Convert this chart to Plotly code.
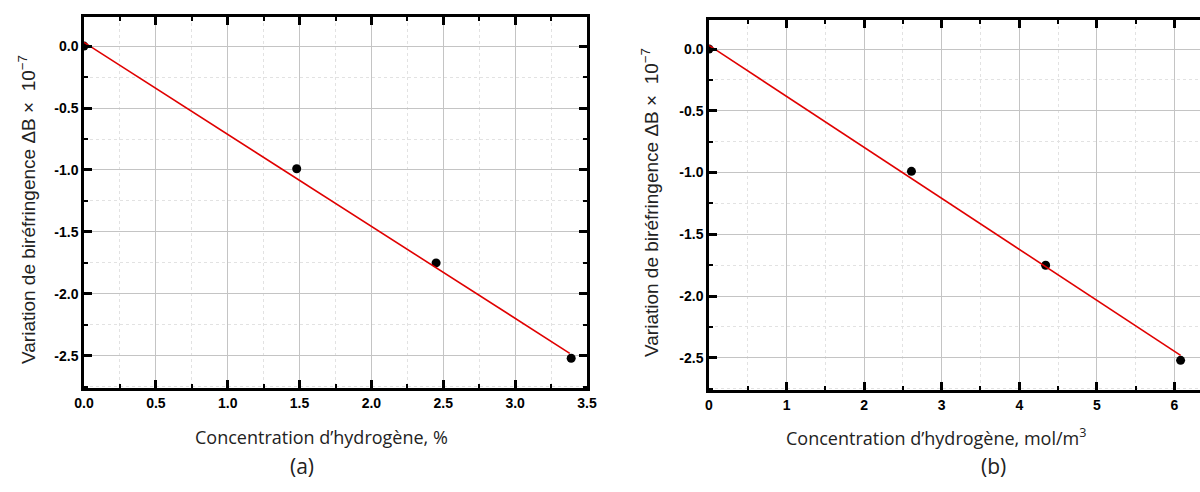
import plotly.graph_objects as go

# Data (a)
conc_pct = [0.0, 1.48, 2.45, 3.39]
dB_a = [0.0, -0.99, -1.75, -2.52]
fit_a_x = [0.0, 3.38]
fit_a_y = [0.03, -2.48]

# Data (b)
conc_mol = [0.0, 2.61, 4.34, 6.08]
dB_b = [0.0, -0.99, -1.75, -2.52]
fit_b_x = [0.0, 6.08]
fit_b_y = [0.03, -2.48]

# ticks
xa_ticks = [0.0, 0.5, 1.0, 1.5, 2.0, 2.5, 3.0, 3.5]
xa_text = ["0.0", "0.5", "1.0", "1.5", "2.0", "2.5", "3.0", "3.5"]
xb_ticks = [0, 1, 2, 3, 4, 5, 6]
xb_text = ["0", "1", "2", "3", "4", "5", "6"]
y_ticks = [0.0, -0.5, -1.0, -1.5, -2.0, -2.5]
y_text = ["0.0", "-0.5", "-1.0", "-1.5", "-2.0", "-2.5"]

W, H = 1200, 492

fig = go.Figure()

for xs, ys, fx, fy, xa, ya in [
    (conc_pct, dB_a, fit_a_x, fit_a_y, "x", "y"),
    (conc_mol, dB_b, fit_b_x, fit_b_y, "x2", "y2"),
]:
    fig.add_trace(go.Scatter(x=xs, y=ys, mode="markers", xaxis=xa, yaxis=ya,
                             marker=dict(color="black", size=9), showlegend=False))
    fig.add_trace(go.Scatter(x=fx, y=fy, mode="lines", xaxis=xa, yaxis=ya,
                             line=dict(color="#e00000", width=1.6), showlegend=False))

tickfont = dict(family="Liberation Sans, Arial", size=14, color="black", weight="bold")
ytitle = "Variation de biréfringence ΔB ×  10<sup>−7</sup>"
ytitlefont = dict(family="Liberation Sans, Arial", size=19, color="#222")
xtitlefont = dict(family="Open Sans", size=18, color="#222")

def xaxis(domain, rng, tv, tt, dtick_minor, anchor):
    return dict(domain=domain, range=rng, anchor=anchor, tickvals=tv, ticktext=tt,
                automargin=False,
                ticks="inside", ticklen=8, tickwidth=2.5, tickcolor="black",
                showline=True, linecolor="black", linewidth=2.5, mirror="allticks",
                showgrid=True, gridcolor="#c4c4c4", gridwidth=1,
                minor=dict(dtick=dtick_minor, ticks="inside", ticklen=4, tickwidth=2,
                           tickcolor="black", showgrid=True, gridcolor="#e2e2e2",
                           griddash="dot", gridwidth=1),
                tickfont=tickfont, zeroline=False)

def yaxis(domain, anchor, mirror):
    return dict(domain=domain, range=[-2.76, 0.235], anchor=anchor,
                tickvals=y_ticks, ticktext=y_text, automargin=False,
                ticks="inside", ticklen=8, tickwidth=2.5, tickcolor="black",
                showline=True, linecolor="black", linewidth=2.5, mirror=mirror,
                showgrid=True, gridcolor="#c4c4c4", gridwidth=1,
                minor=dict(dtick=0.25, tick0=0, ticks="inside", ticklen=4, tickwidth=2,
                           tickcolor="black", showgrid=True, gridcolor="#e2e2e2",
                           griddash="dot", gridwidth=1),
                tickfont=tickfont, zeroline=False)

def ann(text, px, py, font, angle=0):
    return dict(text=text, x=px / W, y=1 - py / H, xref="paper", yref="paper",
                xanchor="center", yanchor="middle", showarrow=False,
                textangle=angle, font=font)

labfont = dict(family="Open Sans", size=21, color="#222")

fig.update_layout(
    width=W, height=H,
    margin=dict(l=0, r=0, t=0, b=0, autoexpand=False),
    paper_bgcolor="white", plot_bgcolor="white",
    xaxis=xaxis([84 / W, 587 / W], [0, 3.5], xa_ticks, xa_text, 0.25, "y"),
    yaxis=yaxis([1 - 388 / H, 1 - 17 / H], "x", "allticks"),
    xaxis2=xaxis([709 / W, 1.0], [0, 6.33], xb_ticks, xb_text, 0.5, "y2"),
    yaxis2=yaxis([1 - 390 / H, 1 - 20 / H], "x2", False),
    annotations=[
        ann(ytitle, 27, 210, ytitlefont, -90),
        ann(ytitle, 650, 203, ytitlefont, -90),
        ann("Concentration d’hydrogène, %", 321, 437, xtitlefont),
        ann("Concentration d’hydrogène, mol/m<sup>3</sup>", 936, 437, xtitlefont),
        ann("(a)", 302, 466, labfont),
        ann("(b)", 993, 466, labfont),
    ],
)

fig.write_html("out.html", config={"displayModeBar": False},
               post_script="document.body.style.margin='0';")
